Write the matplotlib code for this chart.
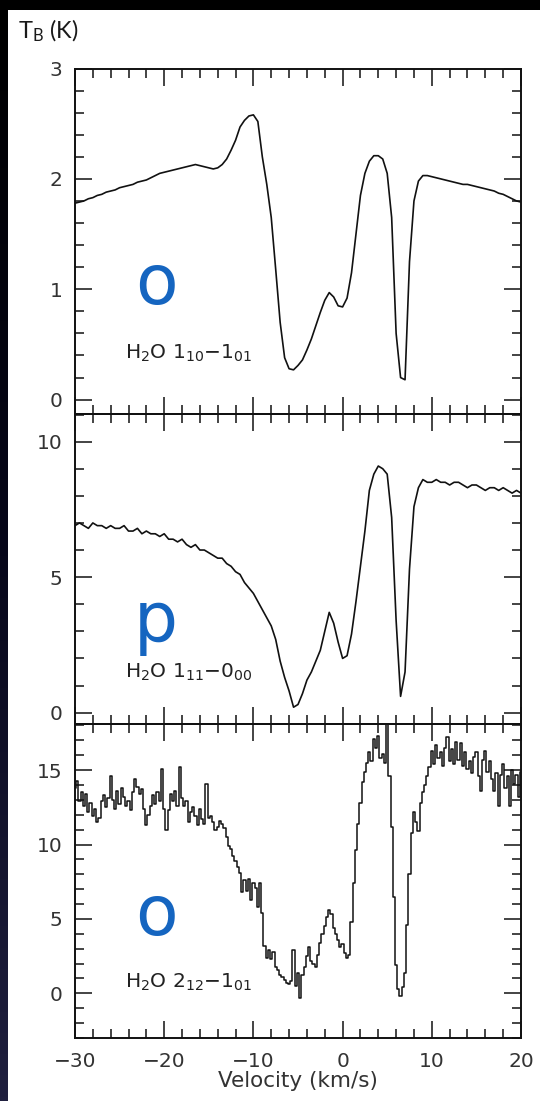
import numpy as np
import matplotlib
matplotlib.use("Agg")
import matplotlib.pyplot as plt
from matplotlib.ticker import MultipleLocator
from matplotlib.patches import Rectangle
from matplotlib.colors import LinearSegmentedColormap

plt.rcParams['font.family'] = ['DejaVu Sans']
plt.rcParams['mathtext.default'] = 'regular'

# velocity grids (km/s)
vel_coarse = np.arange(-30, 20.01, 0.5)
vel_fine = np.arange(-30, 20.01, 0.25)

# H2O 1_10-1_01, T_B (K), every 0.5 km/s
t_110 = [1.78, 1.79, 1.80, 1.82, 1.83, 1.85, 1.86, 1.88, 1.89, 1.90,
         1.92, 1.93, 1.94, 1.95, 1.97, 1.98, 1.99, 2.01, 2.03, 2.05,
         2.06, 2.07, 2.08, 2.09, 2.10, 2.11, 2.12, 2.13, 2.12, 2.11,
         2.10, 2.09, 2.10, 2.13, 2.18, 2.26, 2.35, 2.47, 2.53, 2.57,
         2.58, 2.52, 2.20, 1.95, 1.65, 1.18, 0.70, 0.38, 0.28, 0.27,
         0.31, 0.36, 0.45, 0.55, 0.67, 0.79, 0.90, 0.97, 0.93, 0.85,
         0.84, 0.92, 1.15, 1.50, 1.85, 2.05, 2.16, 2.21, 2.21, 2.18,
         2.05, 1.65, 0.60, 0.20, 0.18, 1.25, 1.80, 1.98, 2.03, 2.03,
         2.02, 2.01, 2.00, 1.99, 1.98, 1.97, 1.96, 1.95, 1.95, 1.94,
         1.93, 1.92, 1.91, 1.90, 1.89, 1.87, 1.86, 1.84, 1.82, 1.80,
         1.79]

# H2O 1_11-0_00, every 0.5 km/s
t_111 = [6.9, 7.0, 6.9, 6.8, 7.0, 6.9, 6.9, 6.8, 6.9, 6.8,
         6.8, 6.9, 6.7, 6.7, 6.8, 6.6, 6.7, 6.6, 6.6, 6.5,
         6.6, 6.4, 6.4, 6.3, 6.4, 6.2, 6.1, 6.2, 6.0, 6.0,
         5.9, 5.8, 5.7, 5.7, 5.5, 5.4, 5.2, 5.1, 4.8, 4.6,
         4.4, 4.1, 3.8, 3.5, 3.2, 2.7, 1.9, 1.3, 0.8, 0.2,
         0.3, 0.7, 1.2, 1.5, 1.9, 2.3, 3.0, 3.7, 3.3, 2.6,
         2.0, 2.1, 2.9, 4.1, 5.4, 6.7, 8.2, 8.8, 9.1, 9.0,
         8.8, 7.2, 3.4, 0.6, 1.5, 5.3, 7.6, 8.3, 8.6, 8.5,
         8.5, 8.6, 8.5, 8.5, 8.4, 8.5, 8.5, 8.4, 8.3, 8.4,
         8.4, 8.3, 8.2, 8.3, 8.3, 8.2, 8.3, 8.2, 8.1, 8.2,
         8.1]

# H2O 2_12-1_01, every 0.25 km/s
t_212 = [13.8, 14.3, 12.9, 13.5, 12.6, 13.4, 12.2, 12.8, 11.9, 12.4,
         11.5, 11.8, 12.9, 13.3, 12.5, 13.1, 14.6, 13.0, 12.4, 13.6,
         12.7, 13.8, 13.2, 12.6, 12.9, 12.3, 13.5, 14.4, 13.9, 13.4,
         13.7, 12.4, 11.3, 12.0, 12.6, 13.3, 12.7, 13.5, 12.9, 15.1,
         12.4, 11.0, 12.3, 13.4, 12.9, 13.6, 12.6, 15.2, 13.1, 12.6,
         12.9, 11.5, 12.2, 12.5, 11.9, 11.3, 12.4, 11.7, 11.4, 14.1,
         11.8, 11.9, 11.5, 11.0, 11.2, 11.6, 11.4, 11.1, 10.5, 9.9,
         9.7, 9.2, 8.9, 8.5, 8.1, 6.8, 7.6, 6.9, 7.7, 6.3,
         7.4, 7.1, 5.8, 7.4, 5.4, 3.2, 2.4, 2.9, 2.3, 2.8,
         1.8, 1.6, 1.2, 1.1, 0.9, 0.7, 0.6, 0.8, 2.9, 0.5,
         1.4, -0.3, 1.2, 1.8, 2.5, 3.1, 2.2, 2.0, 1.8, 2.6,
         3.4, 4.0, 4.5, 5.1, 5.6, 5.3, 4.4, 4.0, 3.6, 3.1,
         3.3, 2.7, 2.4, 2.6, 4.8, 7.4, 9.6, 11.4, 12.8, 14.2,
         14.9, 15.5, 16.2, 15.6, 17.1, 16.5, 17.3, 15.8, 16.1, 15.5,
         18.3, 14.6, 11.2, 6.5, 1.9, 0.3, -0.2, 0.4, 1.4, 4.6,
         8.0, 10.8, 12.2, 11.5, 10.9, 12.8, 13.5, 14.0, 14.6, 15.2,
         16.3, 15.4, 16.7, 15.8, 16.2, 15.3, 16.5, 17.2, 15.6, 16.4,
         15.4, 16.9, 15.7, 16.8, 15.3, 16.2, 15.1, 15.6, 14.8, 15.9,
         16.2, 14.6, 13.6, 15.7, 16.3, 14.9, 15.6, 14.4, 13.6, 14.8,
         12.6, 14.7, 15.4, 13.8, 14.6, 12.6, 15.0, 14.1, 14.7, 13.2,
         14.9]

labels = [r'H$_2$O 1$_{10}$' + '\u2212' + r'1$_{01}$',
          r'H$_2$O 1$_{11}$' + '\u2212' + r'0$_{00}$',
          r'H$_2$O 2$_{12}$' + '\u2212' + r'1$_{01}$']
spin = ['o', 'p', 'o']

W, H = 540, 1101
fig = plt.figure(figsize=(W / 100, H / 100), dpi=100, facecolor='black')

# white page + dark strip on the left
fig.add_artist(Rectangle((8 / W, 0), 1 - 8 / W, 1 - 10 / H,
                         transform=fig.transFigure, facecolor='white',
                         edgecolor='none', zorder=0))
strip = fig.add_axes([0, 0, 8 / W, 1 - 10 / H])
grad = np.linspace(0, 1, 256).reshape(-1, 1)
cm = LinearSegmentedColormap.from_list('s', ['#20203f', '#07071a', '#000000'])
strip.imshow(grad, aspect='auto', cmap=cm, origin='lower')
strip.axis('off')


def px_box(top, bottom, left=75, right=521):
    return [left / W, 1 - bottom / H, (right - left) / W, (bottom - top) / H]


panels = [
    dict(box=px_box(68.5, 414), ylim=(-0.13, 3.0), major=1, minor=0.2,
         x=vel_coarse, y=t_110, lab_y=353, spin_y=285),
    dict(box=px_box(414, 724), ylim=(-0.42, 11.02), major=5, minor=1,
         x=vel_coarse, y=t_111, lab_y=672, spin_y=623),
    dict(box=px_box(724, 1038), ylim=(-3.0, 18.1), major=5, minor=1,
         x=vel_fine, y=t_212, lab_y=982, spin_y=915),
]

for i, p in enumerate(panels):
    ax = fig.add_axes(p['box'])
    ax.set_facecolor('none')
    if i == 2:
        ax.plot(p['x'], p['y'], color='#111111', lw=1.1, drawstyle='steps-mid')
    else:
        ax.plot(p['x'], p['y'], color='#111111', lw=1.2)
    ax.set_xlim(-30, 20)
    ax.set_ylim(*p['ylim'])
    ax.xaxis.set_major_locator(MultipleLocator(10))
    ax.xaxis.set_minor_locator(MultipleLocator(2))
    ax.yaxis.set_major_locator(MultipleLocator(p['major']))
    ax.yaxis.set_minor_locator(MultipleLocator(p['minor']))
    ax.tick_params(which='both', direction='in', top=True, right=True,
                   width=1.1, color='#111111', labelsize=14.5, labelcolor='#333333')
    ax.tick_params(which='major', length=12)
    ax.tick_params(which='minor', length=6.5)
    ax.tick_params(axis='y', pad=9)
    ax.tick_params(axis='x', pad=10)
    for s in ax.spines.values():
        s.set_linewidth(1.4)
        s.set_color('#111111')
    if i < 2:
        ax.tick_params(labelbottom=False)
    else:
        ax.set_xlabel('Velocity (km/s)', fontsize=15.5, color='#333333', labelpad=0)

    fig.text(125 / W, 1 - p['lab_y'] / H, labels[i], fontsize=14.5,
             color='#222222', va='center', ha='left')
    fig.text(156 / W, 1 - p['spin_y'] / H, spin[i], fontsize=50,
             color='#1565c0', va='center', ha='center')

fig.text(18 / W, 1 - 31 / H, r'T$_B$ (K)', fontsize=17, color='#1a1a1a',
         va='center', ha='left', family=['Lato', 'DejaVu Sans'])

fig.savefig('out.png', dpi=100, facecolor=fig.get_facecolor())
